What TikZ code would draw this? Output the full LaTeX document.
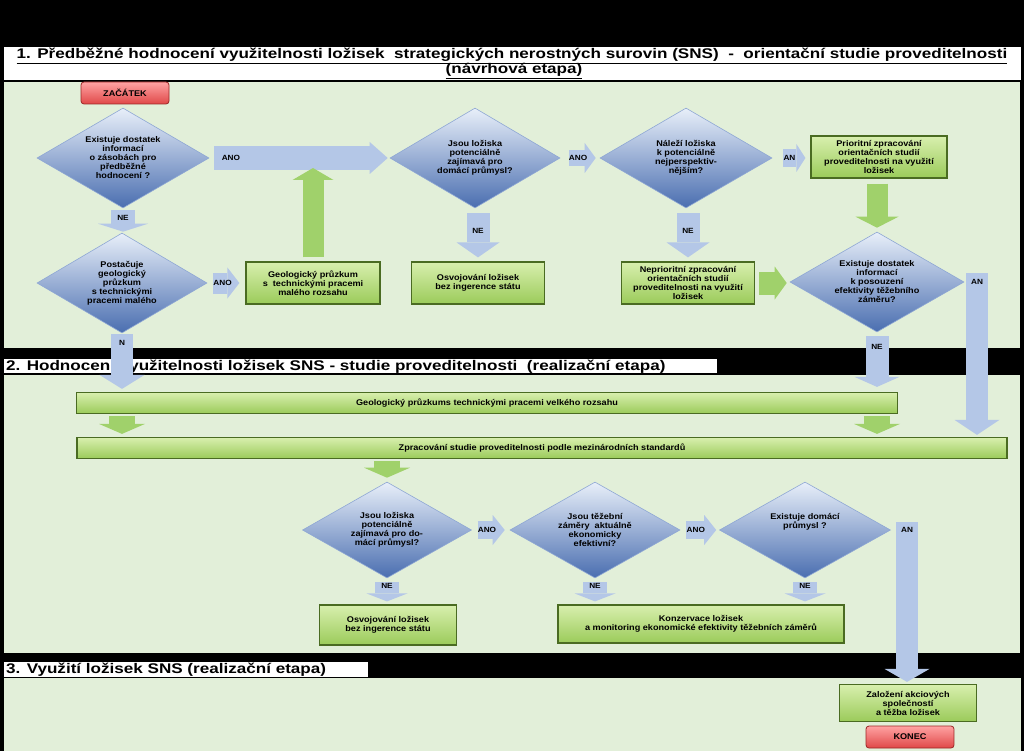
\documentclass[tikz,border=0pt]{standalone}
\usepackage{fontspec}
\newfontfamily\dgfont{Liberation Sans}[FakeStretch=1.1]
\newfontfamily\headfont{Liberation Sans}[FakeStretch=1.22]
\usetikzlibrary{shapes.geometric,arrows.meta}

\definecolor{panelgreen}{HTML}{E2EFD9}
\definecolor{arrowblue}{HTML}{B4C7E7}
\definecolor{arrowgreen}{HTML}{A0D16B}
\definecolor{boxtop}{HTML}{D8EFAE}
\definecolor{boxbot}{HTML}{9BCB5A}
\definecolor{boxline}{HTML}{4A6B22}
\definecolor{diamondtop}{HTML}{E8EFF9}
\definecolor{diamondbot}{HTML}{4A6EB0}
\definecolor{diamondline}{HTML}{8EA7D4}
\definecolor{redtop}{HTML}{FFA3A3}
\definecolor{redbot}{HTML}{E04848}
\definecolor{redline}{HTML}{9C2626}

\newcommand\nodefont{\dgfont\bfseries\fontsize{8.3}{9}\selectfont}
\newcommand\lblfont{\dgfont\bfseries\fontsize{7.5}{8}\selectfont}
\newcommand\titlefont{\headfont\bfseries\fontsize{14}{15.5}\selectfont}

\tikzset{
  question/.style={diamond, shape aspect=1.7, inner sep=0pt,
    minimum width=172pt, minimum height=100pt, align=center,
    top color=diamondtop, bottom color=diamondbot, draw=diamondline,
    line width=0.6pt, font=\nodefont},
  task/.style={rectangle, align=center, inner sep=1pt,
    top color=boxtop, bottom color=boxbot, draw=boxline,
    line width=1.2pt, font=\nodefont},
  terminal/.style={rectangle, rounded corners=3pt, minimum width=88pt,
    minimum height=22pt, top color=redtop, bottom color=redbot,
    draw=redline, line width=0.8pt, font=\nodefont},
  blockblue/.style n args={3}{draw=arrowblue, line width=#1,
    -{Triangle[width=#2,length=#3,line width=0pt]}},
  blockgreen/.style n args={3}{draw=arrowgreen, line width=#1,
    -{Triangle[width=#2,length=#3,line width=0pt]}},
  lbl/.style={font=\lblfont, inner sep=0pt, text=black},
  titlebox/.style={fill=white, draw=black, line width=0.8pt},
}

\begin{document}
\begin{tikzpicture}[x=1pt,y=-1pt]
  \useasboundingbox (0,0) rectangle (1024,751);
  \fill[black] (0,0) rectangle (1024,751);

  % panels and headings
  \draw[titlebox] (3,46) rectangle (1021,80);
  \node[font=\titlefont, anchor=base, inner sep=0pt] (title1) at (512,59)
    {\underline{1. Předběžné hodnocení využitelnosti ložisek\ \ strategických nerostných surovin (SNS)\ \ -\ \ orientační studie proveditelnosti}};
  \node[font=\titlefont, anchor=base, inner sep=0pt] (title1b) at (514,74)
    {\underline{(návrhová etapa)}};
  \fill[panelgreen] (4,82) rectangle (1020,348);
  \draw[titlebox] (3,358) rectangle (717,373);
  \node[font=\titlefont, anchor=base west, inner sep=0pt] (title2) at (6,370)
    {\underline{2. Hodnocení využitelnosti ložisek SNS - studie proveditelnosti\ \ (realizační etapa)}};
  \fill[panelgreen] (4,375) rectangle (1020,653);
  \draw[titlebox] (3,661) rectangle (368,677);
  \node[font=\titlefont, anchor=base west, inner sep=0pt] (title3) at (6,673)
    {\underline{3. Využití ložisek SNS (realizační etapa)}};
  \fill[panelgreen] (4,678) rectangle (1021,751);

  % section 1
  \node[terminal] (start) at (125,93) {ZAČÁTEK};
  \node[question] (d1) at (123,158)
    {Existuje dostatek\\informací\\o zásobách pro\\předběžné\\hodnocení ?};
  \node[question, minimum width=170pt] (d2) at (475,158)
    {Jsou ložiska\\potenciálně\\zajímavá pro\\domácí průmysl?};
  \node[question] (d3) at (686,158)
    {Náleží ložiska\\k potenciálně\\nejperspektiv-\\nějším?};
  \node[task, minimum width=136pt, minimum height=42pt] (p1) at (879,157)
    {Prioritní zpracování\\orientačních studií\\proveditelnosti na využití\\ložisek};
  \node[question, minimum width=170pt] (d4) at (122,283)
    {Postačuje\\geologický\\průzkum\\s technickými\\pracemi malého};
  \node[task, minimum width=134pt, minimum height=42pt] (g1) at (313,283)
    {Geologický průzkum\\s\ \ technickými pracemi\\malého rozsahu};
  \node[task, minimum width=133pt, minimum height=42pt] (o1) at (478,283)
    {Osvojování ložisek\\bez ingerence státu};
  \node[task, minimum width=133pt, minimum height=42pt] (n1) at (688,283)
    {Neprioritní zpracování\\orientačních studií\\proveditelnosti na využití\\ložisek};
  \node[question, minimum width=174pt] (d5) at (877,282)
    {Existuje dostatek\\informací\\k posouzení\\efektivity těžebního\\záměru?};

  % section 2
  \node[task, minimum width=821pt, minimum height=21pt] (g2) at (487,403)
    {Geologický průzkums technickými pracemi velkého rozsahu};
  \node[task, minimum width=930pt, minimum height=21pt] (z) at (542,448)
    {Zpracování studie proveditelnosti podle mezinárodních standardů};
  \node[question, minimum width=169pt, minimum height=96pt] (d6) at (387,530)
    {Jsou ložiska\\potenciálně\\zajímavá pro do-\\mácí průmysl?};
  \node[question, minimum width=170pt, minimum height=96pt] (d7) at (595,530)
    {Jsou těžební\\záměry\ \ aktuálně\\ekonomicky\\efektivní?};
  \node[question, minimum width=171pt, minimum height=96pt] (d8) at (805,530)
    {Existuje domácí\\průmysl ?\\~\\~};
  \node[task, minimum width=137pt, minimum height=40pt] (o2) at (388,625)
    {Osvojování ložisek\\bez ingerence státu};
  \node[task, minimum width=286pt, minimum height=38pt] (k) at (701,624)
    {Konzervace ložisek\\a monitoring ekonomické efektivity těžebních záměrů};

  % section 3
  \node[task, minimum width=137pt, minimum height=37pt] (z2) at (908,703)
    {Založení akciových\\společností\\a těžba ložisek};
  \node[terminal] (konec) at (910,737) {KONEC};

  % free ends
  \coordinate (join) at (313,168);
  \coordinate (anr) at (977,273);
  \coordinate (anb) at (907,522);

  % connectors, section 1
  \draw[blockblue={24pt}{32pt}{18pt}, shorten <=5pt, shorten >=2pt]
    (d1.east) -- node[lbl, pos=0.12] {ANO} (d2.west);
  \draw[blockblue={16pt}{30pt}{11pt}, shorten <=9pt, shorten >=4pt]
    (d2.east) -- node[lbl, pos=0.45] {ANO} (d3.west);
  \draw[blockblue={18pt}{28pt}{9pt}, shorten <=11pt, shorten >=5pt]
    (d3.east) -- node[lbl, pos=0.45] {AN} (d3.east -| p1.west);
  \draw[blockgreen={21pt}{43pt}{11pt}, shorten <=5pt, shorten >=4pt]
    (d5.north |- p1.south) -- (d5.north);
  \draw[blockblue={24pt}{50pt}{8pt}, shorten <=2pt, shorten >=1pt]
    (d1.south) -- node[lbl, pos=0.4] {NE} (d1.south |- d4.north);
  \draw[blockblue={21pt}{31pt}{12pt}, shorten <=6pt, shorten >=6pt]
    (d4.east) -- node[lbl, pos=0.4] {ANO} (g1.west);
  \draw[blockgreen={21pt}{41pt}{12pt}, shorten <=4pt] (g1.north) -- (join);
  \draw[blockblue={23pt}{43pt}{15pt}, shorten <=5pt, shorten >=4pt]
    (o1.north |- d2.south) -- node[lbl, pos=0.42] {NE} (o1.north);
  \draw[blockblue={23pt}{43pt}{15pt}, shorten <=5pt, shorten >=4pt]
    (n1.north |- d3.south) -- node[lbl, pos=0.42] {NE} (n1.north);
  \draw[blockgreen={23pt}{33pt}{12pt}, shorten <=4pt, shorten >=3pt]
    (n1.east) -- (n1.east -| d5.west);
  \draw[blockblue={23pt}{45pt}{10pt}, shorten <=4pt, shorten >=5pt]
    (d5.south) -- node[lbl, pos=0.25] {NE} (d5.south |- g2.north);
  \draw[blockblue={22pt}{45pt}{15pt}, shorten >=2pt]
    (anr) -- node[lbl, pos=0.055] {AN} (anr |- z.north);
  \draw[blockblue={22pt}{45pt}{14pt}, shorten <=1pt, shorten >=3pt]
    (d4.south) -- node[lbl, pos=0.17] {N} (d4.south |- g2.north);

  % connectors, section 2
  \draw[blockgreen={26pt}{46pt}{10pt}, shorten <=2pt, shorten >=3pt]
    (d4.south |- g2.south) -- (d4.south |- z.north);
  \draw[blockgreen={26pt}{46pt}{10pt}, shorten <=2pt, shorten >=3pt]
    (d5.south |- g2.south) -- (d5.south |- z.north);
  \draw[blockgreen={26pt}{46pt}{10pt}, shorten <=2pt, shorten >=4pt]
    (d6.north |- z.south) -- (d6.north);
  \draw[blockblue={18pt}{30pt}{12pt}, shorten <=6pt, shorten >=5pt]
    (d6.east) -- node[lbl, pos=0.4] {ANO} (d7.west);
  \draw[blockblue={18pt}{30pt}{12pt}, shorten <=6pt, shorten >=3pt]
    (d7.east) -- node[lbl, pos=0.4] {ANO} (d8.west);
  \draw[blockblue={22pt}{45pt}{13pt}, shorten >=2pt]
    (anb) -- node[lbl, pos=0.05] {AN} (anb |- z2.north);
  \draw[blockblue={24pt}{41pt}{8pt}, shorten <=4pt, shorten >=3pt]
    (d6.south) -- node[lbl, pos=0.3] {NE} (d6.south |- o2.north);
  \draw[blockblue={24pt}{41pt}{8pt}, shorten <=4pt, shorten >=3pt]
    (d7.south) -- node[lbl, pos=0.3] {NE} (d7.south |- k.north);
  \draw[blockblue={24pt}{41pt}{8pt}, shorten <=4pt, shorten >=3pt]
    (d8.south) -- node[lbl, pos=0.3] {NE} (d8.south |- k.north);
\end{tikzpicture}
\end{document}
